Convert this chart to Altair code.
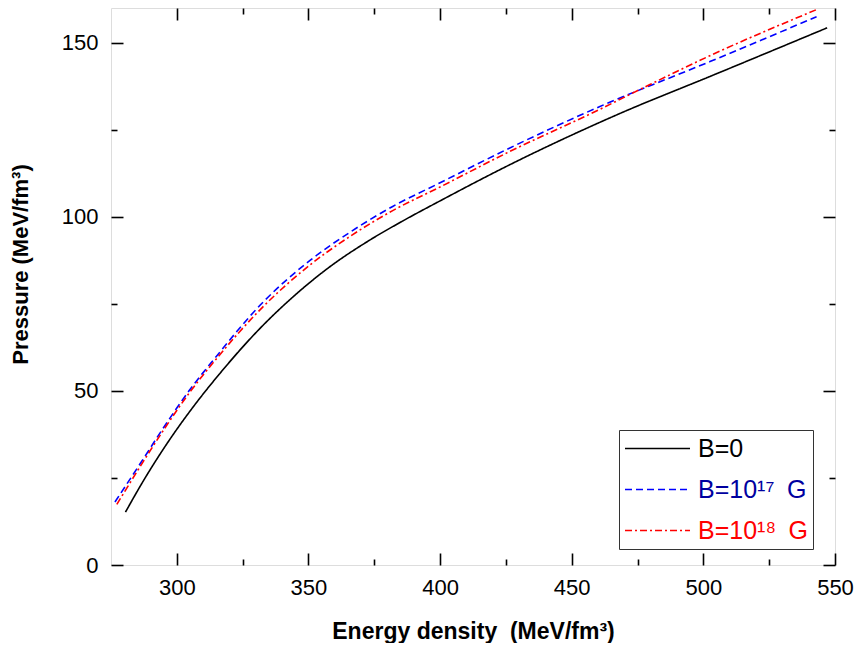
import altair as alt
import pandas as pd

# B = 0
e0 = [280.5, 287, 297, 306, 316, 331, 345, 358, 373, 386, 400, 426, 468, 504, 547]
p0 = [15.2, 23.8, 35.7, 45.2, 54.7, 67.5, 77.6, 85.6, 93.2, 98.9, 104.6, 114.8, 129.6, 140.8, 154.3]

# B = 10^17 G
e17 = [276.5, 286, 295, 305, 315, 331.6, 350.6, 365.8, 382, 400, 426.5, 460.7, 502.5, 543]
p17 = [18.1, 29.0, 39.5, 50.4, 59.9, 74.6, 87.5, 95.6, 103.0, 109.8, 119.8, 131.7, 144.6, 157.5]

# B = 10^18 G
e18 = [277.2, 286, 295, 305, 315, 331.6, 350.6, 365.8, 382, 400, 426.5, 460.7, 477, 502.5, 543.5]
p18 = [17.4, 28.2, 38.8, 49.7, 59.2, 73.3, 86.2, 94.4, 101.8, 108.6, 118.8, 130.9, 137.0, 146.3, 159.7]

labels = ["B=0", "B=10¹⁷\u2002G", "B=10¹⁸\u2002G"]
line_colors = ["#000000", "#0000ff", "#ff0000"]
label_colors = ["#000000", "#0000a0", "#ff0000"]
dashes = [[1, 0], [7, 4], [7, 3, 2, 3]]

x_major = [300, 350, 400, 450, 500, 550]
x_minor = [325, 375, 425, 475, 525]
y_major = [0, 50, 100, 150]
y_minor = [25, 75, 125]

rows = []
for lab, es, ps in zip(labels, [e0, e17, e18], [p0, p17, p18]):
    for i, (e, p) in enumerate(zip(es, ps)):
        rows.append({"series": lab, "E": e, "P": p, "order": i})
df = pd.DataFrame(rows)

FONT = "Liberation Sans"
xs = alt.Scale(domain=[275, 550], nice=False, zero=False)
ys = alt.Scale(domain=[0, 160], nice=False, zero=False)


def tick_axis(orient, values, size, labels_on=False, title=None, **kw):
    args = dict(
        orient=orient, values=values, tickSize=size, offset=-size,
        domain=False, grid=False, labels=labels_on, tickColor="black",
        tickWidth=1.6, title=title,
    )
    args.update(kw)
    return alt.Axis(**args)


label_kw = dict(labelFont=FONT, labelFontSize=22, labelColor="black",
                labelFlush=False, labelOverlap=False,
                titleFont=FONT, titleFontWeight="bold", titleColor="black")

color_expr = ("datum.label == '%s' ? '%s' : (datum.label == '%s' ? '%s' : '%s')"
              % (labels[1], label_colors[1], labels[2], label_colors[2], label_colors[0]))

lines = alt.Chart(df).mark_line(strokeWidth=1.6, interpolate="monotone").encode(
    x=alt.X("E:Q", scale=xs,
            axis=tick_axis("bottom", x_major, 12, True,
                           "Energy density\u00a0 (MeV/fm³)",
                           labelPadding=12, titlePadding=22, titleFontSize=23,
                           **label_kw)),
    y=alt.Y("P:Q", scale=ys,
            axis=tick_axis("left", y_major, 12, True, "Pressure (MeV/fm³)",
                           labelPadding=13, titlePadding=29, titleY=256,
                           titleFontSize=22, **label_kw)),
    color=alt.Color("series:N", sort=labels,
                    scale=alt.Scale(domain=labels, range=line_colors),
                    legend=alt.Legend(
                        title=None, orient="none", legendX=508, legendY=422,
                        symbolType="M-1,0H4.2", symbolSize=625,
                        symbolStrokeWidth=1.6,
                        labelFont=FONT, labelFontSize=25,
                        labelColor=alt.ExprRef(color_expr),
                        labelOffset=47, rowPadding=14, padding=5,
                        strokeColor="#333333", fillColor="white",
                        labelLimit=300)),
    strokeDash=alt.StrokeDash("series:N", sort=labels,
                              scale=alt.Scale(domain=labels, range=dashes),
                              legend=None),
    order="order:Q",
)


def ghost(xax, yax):
    return alt.Chart(df).mark_point(opacity=0).encode(
        x=alt.X("E:Q", scale=xs, axis=xax),
        y=alt.Y("P:Q", scale=ys, axis=yax),
    )


g1 = ghost(tick_axis("bottom", x_minor, 6), tick_axis("left", y_minor, 6))
g2 = ghost(tick_axis("top", x_major, 12), tick_axis("right", y_major, 12))
g3 = ghost(tick_axis("top", x_minor, 6), tick_axis("right", y_minor, 6))

chart = alt.layer(lines, g1, g2, g3).resolve_axis(
    x="independent", y="independent"
).properties(
    width=724, height=557,
    autosize=alt.AutoSizeParams(type="none"),
    padding={"left": 103, "top": 0, "right": 21, "bottom": 78},
).configure_view(
    stroke="black", strokeWidth=2
).configure(background="white")

chart.save("out.html", embed_options={"renderer": "svg", "actions": False})
